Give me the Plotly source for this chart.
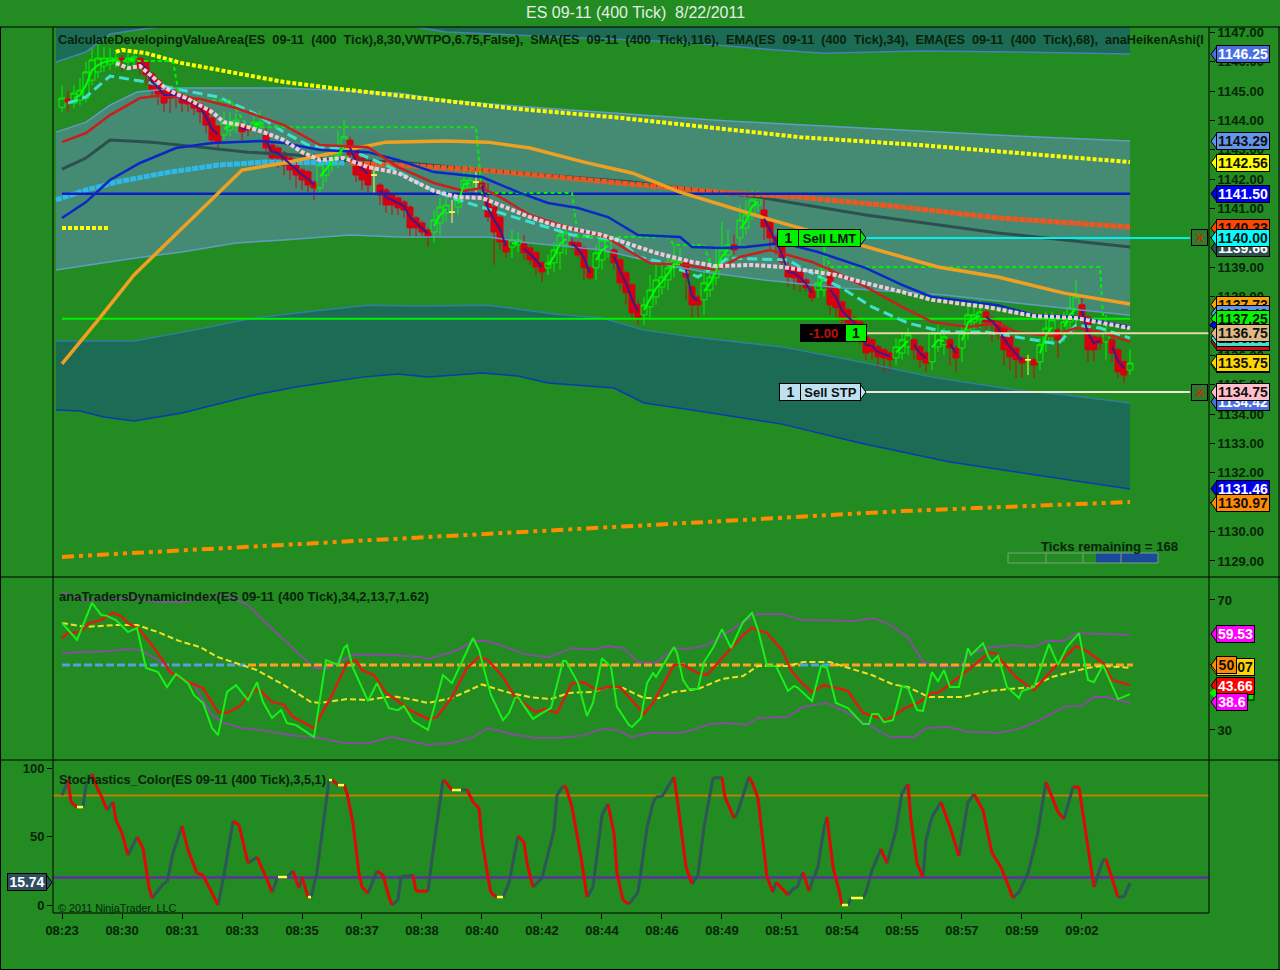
"""ES 09-11 (400 Tick) 8/22/2011, NinjaTrader style three panel chart."""

import plotly.graph_objects as go

WIDTH, HEIGHT = 1280, 970
BG = "#228B22"
INK = "#082408"
FONT = "Liberation Sans"

TIME_LABELS = ["08:23", "08:30", "08:31", "08:33", "08:35", "08:37", "08:38", "08:40", "08:42",
               "08:44", "08:46", "08:49", "08:51", "08:54", "08:55", "08:57", "08:59", "09:02"]
TIME_TICKS = [i * 10 for i in range(len(TIME_LABELS))]

# ---------------------------------------------------------------------------
# Heiken-Ashi bars (None where the bar is a doji, see DOJI_*)
# ---------------------------------------------------------------------------
BAR_OPEN = [
    1144.45, 1144.73, 1144.59, 1144.69, 1144.76, 1145.37, 1145.65, 1145.85, 1145.92, 1145.99,
    1146.12, 1145.99, 1146.06, 1146.12, 1145.99, 1145.58, 1145.37, 1145.14, 1144.97, 1144.93,
    1144.86, 1144.80, 1144.69, 1144.56, 1144.42, 1144.08, 1143.81, 1143.50, 1143.67, 1143.81,
    1143.81, 1143.78, 1143.74, 1143.84, 1143.50, 1143.16, 1143.06, 1142.89, 1142.72, 1142.55,
    1142.31, 1142.25, 1141.90, 1141.70, 1142.14, 1142.48, 1142.65, 1142.72, 1143.33, 1143.06,
    1142.72, 1142.59, None, 1141.80, 1141.63, 1141.46, 1141.36, 1141.22, 1141.05, 1140.68,
    1140.51, 1140.27, 1140.20, 1140.51, 1140.85, None, 1141.05, 1141.70, 1141.73, None,
    1141.87, 1141.29, 1141.05, 1140.71, 1139.93, 1139.69, 1139.76, 1139.79, 1139.66, 1139.49,
    1139.15, 1138.98, 1139.15, 1139.49, 1139.76, 1139.86, 1139.83, 1139.66, 1138.98, 1138.98,
    1139.25, 1139.52, 1139.59, 1139.25, 1138.81, 1138.40, 1137.72, 1137.38, 1137.65, 1137.99,
    1138.33, 1138.57, 1138.98, 1139.00, 1139.15, 1138.33, 1137.99, 1137.89, 1138.23, 1138.64,
    1139.18, 1139.42, 1139.76, 1140.00, 1140.34, 1140.82, 1141.12, 1140.95, 1140.54, 1140.03,
    1139.69, 1139.01, 1138.98, 1138.84, 1138.57, 1138.30, 1138.23, 1138.23, 1138.74, 1138.33,
    1137.82, 1137.55, 1137.28, 1137.14, 1136.63, 1136.53, 1136.29, 1136.19, 1136.08, 1135.91,
    1136.08, 1136.29, 1136.53, 1136.29, 1136.08, 1135.78, 1136.29, 1136.36, 1136.53, 1136.25,
    1136.25, 1136.87, 1137.14, 1137.21, 1137.48, 1137.28, 1137.14, 1136.93, 1136.63, 1136.25,
    1135.91, None, 1135.85, 1135.78, 1136.42, 1136.70, 1136.87, 1136.80, 1137.14, 1137.21,
    1137.72, 1137.31, 1136.63, 1136.59, 1136.46, 1136.53, 1136.19, 1135.78, 1135.50,
]
BAR_CLOSE = [
    1144.76, 1144.62, 1144.93, 1145.03, 1145.65, 1146.06, 1146.12, 1146.12, 1146.12, 1146.12,
    1146.06, 1146.12, 1146.16, 1145.78, 1145.55, 1145.03, 1144.90, 1144.59, 1144.76, 1144.80,
    1144.59, 1144.56, 1144.42, 1144.29, 1143.84, 1143.33, 1143.23, 1143.94, 1143.94, 1144.01,
    1143.61, 1143.67, 1143.94, 1143.94, 1143.06, 1142.72, 1142.72, 1142.48, 1142.31, 1142.14,
    1141.97, 1141.80, 1141.70, 1142.48, 1142.55, 1142.72, 1142.99, 1143.44, 1142.82, 1142.14,
    1141.97, 1141.80, None, 1141.46, 1141.12, 1141.12, 1141.02, 1140.95, 1140.34, 1140.34,
    1140.20, 1140.03, 1140.61, 1141.05, 1141.12, None, 1141.29, 1141.97, 1141.97, None,
    1141.70, 1140.71, 1140.20, 1139.86, 1139.52, 1139.93, 1139.93, 1139.49, 1139.25, 1139.01,
    1138.84, 1139.15, 1139.59, 1140.10, 1140.17, 1139.76, 1139.42, 1138.98, 1138.64, 1139.49,
    1139.93, 1139.93, 1139.15, 1138.47, 1138.13, 1137.45, 1137.28, 1137.72, 1138.23, 1138.57,
    1138.67, 1138.98, 1139.25, 1139.18, 1138.67, 1137.72, 1137.72, 1138.47, 1138.67, 1139.08,
    1139.59, 1139.76, 1139.59, 1140.61, 1140.78, 1141.29, 1141.36, 1140.37, 1140.00, 1139.76,
    1139.18, 1138.67, 1138.64, 1138.47, 1138.30, 1137.96, 1138.47, 1138.98, 1137.72, 1137.62,
    1137.21, 1137.10, 1136.93, 1136.70, 1136.08, 1136.12, 1135.95, 1135.91, 1135.85, 1136.29,
    1136.53, 1136.70, 1136.19, 1135.85, 1135.74, 1136.76, 1136.76, 1136.63, 1136.25, 1135.91,
    1136.76, 1137.38, 1137.38, 1137.48, 1137.14, 1137.04, 1136.76, 1136.19, 1135.95, 1135.85,
    1135.74, None, 1135.67, 1136.36, 1136.93, 1137.21, 1136.53, 1137.14, 1137.62, 1137.99,
    1137.28, 1136.19, 1136.19, 1136.42, 1136.76, 1136.08, 1135.44, 1135.33, 1135.74,
]
BAR_HIGH = [
    1145.20, 1145.00, 1145.20, 1145.44, 1145.99, 1146.47, 1146.60, 1146.50, 1146.47, 1146.40,
    1146.22, 1146.29, 1146.36, 1146.16, 1146.06, 1145.65, 1145.44, 1145.20, 1145.03, 1145.00,
    1144.93, 1144.86, 1144.76, 1144.62, 1144.49, 1144.18, 1143.84, 1144.29, 1144.29, 1144.25,
    1143.94, 1143.88, 1144.29, 1144.35, 1143.74, 1143.23, 1143.13, 1142.96, 1142.79, 1142.62,
    1142.38, 1142.31, 1141.97, 1142.82, 1142.99, 1143.06, 1143.67, 1144.01, 1143.44, 1143.13,
    1142.79, 1142.65, None, 1141.87, 1141.70, 1141.53, 1141.43, 1141.29, 1141.12, 1140.75,
    1140.58, 1140.34, 1140.95, 1141.36, 1141.36, None, 1141.53, 1142.48, 1142.48, None,
    1141.97, 1141.87, 1141.12, 1140.78, 1140.00, 1140.27, 1140.20, 1140.10, 1139.73, 1139.56,
    1139.22, 1139.42, 1139.86, 1140.34, 1140.44, 1140.00, 1139.90, 1139.73, 1139.05, 1139.76,
    1140.10, 1140.10, 1139.66, 1139.32, 1138.88, 1138.47, 1137.89, 1137.99, 1138.74, 1139.08,
    1139.08, 1139.42, 1139.76, 1139.66, 1139.22, 1138.40, 1138.06, 1138.91, 1139.32, 1139.76,
    1140.54, 1140.27, 1140.10, 1141.12, 1141.29, 1141.63, 1141.63, 1141.46, 1140.61, 1140.10,
    1139.76, 1139.18, 1139.05, 1138.91, 1138.64, 1138.37, 1138.98, 1139.66, 1139.00, 1138.40,
    1137.89, 1137.62, 1137.35, 1137.21, 1136.70, 1136.59, 1136.36, 1136.25, 1136.15, 1136.59,
    1136.80, 1136.93, 1136.59, 1136.36, 1136.15, 1136.93, 1137.04, 1136.93, 1136.59, 1136.32,
    1137.04, 1137.72, 1137.72, 1137.89, 1137.65, 1137.35, 1137.21, 1137.00, 1136.70, 1136.32,
    1135.98, None, 1135.91, 1136.59, 1137.48, 1137.48, 1136.93, 1137.48, 1138.06, 1138.57,
    1138.06, 1137.38, 1136.70, 1136.66, 1137.38, 1136.59, 1136.25, 1135.85, 1136.19,
]
BAR_LOW = [
    1144.29, 1144.29, 1144.42, 1144.52, 1144.62, 1145.20, 1145.44, 1145.65, 1145.71, 1145.78,
    1145.65, 1145.78, 1145.82, 1145.55, 1145.20, 1144.86, 1144.52, 1144.29, 1144.25, 1144.42,
    1144.29, 1144.29, 1144.18, 1143.91, 1143.57, 1143.16, 1143.06, 1143.33, 1143.47, 1143.57,
    1143.33, 1143.47, 1143.61, 1143.67, 1142.82, 1142.48, 1142.38, 1142.14, 1141.97, 1141.70,
    1141.63, 1141.56, 1141.29, 1141.46, 1141.90, 1142.25, 1142.38, 1142.48, 1142.65, 1141.90,
    1141.63, 1141.56, None, 1141.12, 1140.85, 1140.78, 1140.78, 1140.68, 1140.03, 1140.03,
    1140.03, 1139.69, 1139.83, 1140.10, 1140.54, None, 1140.78, 1141.46, 1141.56, None,
    1141.39, 1140.54, 1139.08, 1139.59, 1139.32, 1139.32, 1139.52, 1139.25, 1139.08, 1138.74,
    1138.50, 1138.74, 1138.84, 1138.91, 1139.42, 1139.59, 1139.32, 1138.57, 1138.57, 1138.57,
    1138.91, 1139.32, 1138.91, 1138.23, 1137.72, 1137.21, 1137.04, 1137.04, 1137.28, 1137.72,
    1138.06, 1138.23, 1138.64, 1138.84, 1137.89, 1137.28, 1137.28, 1137.38, 1137.99, 1138.40,
    1139.01, 1139.18, 1139.42, 1139.76, 1140.10, 1140.61, 1140.88, 1139.93, 1139.59, 1139.42,
    1138.98, 1138.33, 1138.23, 1138.16, 1138.16, 1137.82, 1137.96, 1137.99, 1137.38, 1137.28,
    1136.87, 1136.70, 1136.53, 1136.36, 1135.85, 1135.85, 1135.57, 1135.44, 1135.44, 1135.67,
    1135.85, 1136.02, 1135.85, 1135.57, 1135.44, 1135.50, 1136.12, 1136.02, 1135.67, 1135.44,
    1135.78, 1136.53, 1136.87, 1136.93, 1136.87, 1136.46, 1136.53, 1135.67, 1135.50, 1135.23,
    1135.23, None, 1135.23, 1135.50, 1136.12, 1136.46, 1135.91, 1136.46, 1136.87, 1136.93,
    1136.87, 1135.78, 1135.78, 1136.19, 1135.85, 1135.78, 1135.23, 1135.06, 1135.33,
]
DOJI_BARS = [52, 65, 69, 161]
DOJI_CLOSE = [1142.14, 1140.88, 1141.90, 1135.85]
DOJI_HIGH = [1142.48, 1141.29, 1142.31, 1136.02]
DOJI_LOW = [1141.46, 1140.51, 1141.53, 1135.33]

# ---------------------------------------------------------------------------
# Price panel series, (bar, value)
# ---------------------------------------------------------------------------
UPPER_DARK_EDGE = [(-1, 1145.99), (4, 1146.33), (8, 1146.94), (19, 1147.28), (37, 1147.35), (56, 1147.28),
                   (64, 1147.01), (83, 1146.84), (103, 1146.67), (119, 1146.40), (127, 1146.29),
                   (143, 1146.36), (159, 1146.33), (178, 1146.26)]
PLOT_CEILING = [(-1, 1147.6), (178, 1147.6)]
LIGHT_TOP = [(-1, 1143.60), (4, 1143.94), (8, 1144.52), (12.5, 1144.97), (19, 1145.10), (37, 1145.10),
             (56, 1144.93), (64, 1144.69), (80, 1144.42), (96, 1144.18), (111, 1143.98), (127, 1143.81),
             (143, 1143.64), (159, 1143.47), (178, 1143.30)]
LIGHT_BOTTOM = [(-1, 1138.91), (12, 1139.31), (20, 1139.52), (29, 1139.83), (37, 1139.93), (48, 1140.10),
                (56, 1140.03), (71, 1140.03), (78, 1139.83), (90, 1139.59), (97, 1139.25), (107, 1138.84),
                (117, 1138.57), (130, 1138.29), (147, 1138.06), (159, 1137.78), (178, 1137.37)]
LOWER_TOP = [(-1, 1136.49), (12, 1136.49), (22, 1136.86), (32, 1137.27), (42, 1137.51), (51, 1137.71),
             (59, 1137.68), (71, 1137.71), (82, 1137.41), (90, 1137.27), (97, 1136.86), (105, 1136.63),
             (120, 1136.29), (134, 1135.74), (145, 1135.26), (159, 1134.82), (167.5, 1134.65), (178, 1134.38)]
LOWER_BOTTOM = [(-1, 1134.14), (3, 1134.11), (7, 1133.90), (12, 1133.77), (20, 1134.04), (32, 1134.65),
                (39, 1134.92), (50, 1135.26), (56, 1135.37), (61, 1135.26), (70, 1135.40), (76, 1135.30),
                (81, 1135.06), (92, 1134.89), (97, 1134.38), (105, 1134.14), (120, 1133.66), (133, 1133.02),
                (148, 1132.37), (165, 1131.86), (178, 1131.45)]
OPEN_LEVEL = 1141.50
POC_LEVEL = 1137.25
SHORT_DOTS = 1140.34
BOTTOM_ORANGE = [(0, 1129.14), (40, 1129.58), (73, 1129.92), (104, 1130.29), (140, 1130.70), (156, 1130.84),
                 (178, 1131.01)]
YELLOW_DOTS = [(9, 1146.33), (10, 1146.40), (14, 1146.29), (20, 1145.95), (29, 1145.61), (37, 1145.31),
               (45, 1145.10), (54, 1144.90), (64, 1144.69), (76, 1144.39), (92, 1144.11), (107, 1143.77),
               (123, 1143.43), (143, 1143.16), (159, 1142.89), (178, 1142.58)]
ARROWS_CYAN = [(-1, 1141.29), (4, 1141.63), (9, 1141.90), (18, 1142.24), (26, 1142.48), (34, 1142.58),
               (47, 1142.55)]
ARROWS_RED = [(48, 1142.55), (56, 1142.48), (70, 1142.31), (84, 1142.04), (95, 1141.80), (109, 1141.56),
              (123, 1141.39), (140, 1141.05), (156, 1140.68), (178, 1140.37)]
SMA_116 = [(0, 1142.34), (4, 1142.72), (8, 1143.33), (15, 1143.26), (23, 1143.09), (31, 1142.92), (39, 1142.82),
           (45, 1142.65), (56, 1142.58), (70, 1142.31), (95, 1141.90), (116, 1141.39), (134, 1140.78),
           (156, 1140.17), (178, 1139.69)]
SMA_ORANGE = [(0, 1135.71), (6, 1137.20), (12, 1138.74), (26, 1141.53), (30, 1142.31), (37, 1142.55), (45, 1142.89),
              (54, 1143.26), (64, 1143.30), (71, 1143.26), (78, 1143.06), (87, 1142.58), (95, 1142.21),
              (103, 1141.56), (117, 1140.68), (134, 1139.69), (146, 1139.01), (156, 1138.67), (167, 1138.12),
              (178, 1137.75)]
EMA_BLUE = [(0, 1140.68), (4, 1141.22), (8, 1141.97), (13, 1142.55), (19, 1143.06), (25, 1143.23), (33, 1143.30),
            (37, 1143.23), (43, 1142.99), (51, 1142.92), (56, 1142.65), (62, 1142.24), (70, 1142.07), (76, 1141.56),
            (81, 1141.19), (86, 1141.02), (91, 1140.71), (96, 1140.10), (103, 1140.03), (105, 1139.69),
            (110, 1139.66), (114, 1139.69), (120, 1139.83), (126, 1139.52), (134, 1138.97), (140, 1138.40),
            (145, 1137.99), (156, 1137.71), (162, 1137.37), (169, 1137.31), (178, 1136.97)]
EMA_RED = [(0, 1143.26), (4, 1143.57), (8, 1144.18), (13, 1144.76), (17, 1144.86), (23, 1144.73), (29, 1144.42),
           (37, 1143.84), (43, 1143.16), (51, 1143.09), (56, 1142.41), (62, 1141.87), (67, 1141.60), (70, 1141.70),
           (73, 1141.39), (78, 1140.78), (84, 1140.37), (91, 1140.00), (95, 1139.49), (98, 1139.14), (104, 1139.08),
           (109, 1138.91), (113, 1139.35), (118, 1139.59), (121, 1139.42), (125, 1139.18), (128, 1138.91),
           (134, 1138.33), (140, 1137.65), (145, 1137.14), (151, 1136.97), (156, 1137.10), (159, 1136.80),
           (165, 1136.66), (169, 1136.93), (173, 1136.80), (178, 1136.46)]
PINK_DOTS = [(9, 1145.95), (11, 1145.78), (13, 1145.85), (15, 1145.48), (17, 1145.14), (19, 1144.90), (21, 1144.73),
             (25, 1144.29), (27, 1143.94), (30, 1143.84), (34, 1143.57), (37, 1143.33), (40, 1142.92), (43, 1142.65),
             (47, 1142.72), (51, 1142.41), (56, 1142.21), (59, 1141.90), (62, 1141.60), (66, 1141.39), (70, 1141.36),
             (73, 1141.12), (78, 1140.71), (82, 1140.44), (90, 1140.10), (94, 1139.83), (99, 1139.49), (105, 1139.18),
             (109, 1139.04), (115, 1139.08), (120, 1139.01), (129, 1138.74), (134, 1138.46), (140, 1138.16),
             (145, 1137.89), (154, 1137.65), (162, 1137.34), (169, 1137.27), (178, 1136.93)]
TEAL_DASH = [(1, 1144.59), (4, 1144.80), (8, 1145.51), (14, 1145.31), (20, 1145.03), (26, 1144.80), (32, 1144.25),
             (37, 1143.60), (41, 1143.16), (48, 1142.99), (54, 1142.48), (61, 1141.70), (65, 1141.36), (81, 1140.34),
             (85, 1140.10), (93, 1139.93), (96, 1139.35), (100, 1139.18), (106, 1138.67), (111, 1139.31),
             (121, 1139.25), (123, 1139.01), (130, 1138.29), (135, 1137.65), (141, 1137.10), (147, 1136.80),
             (154, 1136.80), (159, 1136.63), (166, 1136.39), (169, 1137.03), (173, 1136.93), (178, 1136.59)]
GREEN_STEPS = [(9, 1146.02), (18.5, 1146.02), (19.5, 1144.86), (21, 1144.69), (28, 1144.69), (31, 1143.77),
               (69, 1143.77), (70, 1141.53), (85, 1141.53), (86, 1140.03), (101, 1140.03), (102, 1139.76),
               (107, 1139.76), (108, 1139.14), (109, None), (127, 1139.69), (128, 1139.01), (173, 1139.01),
               (173.5, 1137.31)]

# ---------------------------------------------------------------------------
# Traders dynamic index
# ---------------------------------------------------------------------------
TDI_UPPER = [(0, 72.4), (3.5, 70), (12, 70.6), (16, 69.4), (20, 69.4), (26, 71.5), (28.5, 70.6), (31, 68.4), (34, 62.9),
             (38.5, 55.2), (42, 49.1), (44, 48.8), (47, 51.5), (48.5, 53.1), (55, 53.1), (60, 52.4), (61, 51.8),
             (64, 53.4), (66, 54.6), (68.5, 57.4), (71, 57.4), (74, 55.5), (77, 53.4), (81, 52.4), (85, 55.2),
             (88.5, 54.6), (91, 55.8), (93.5, 55.2), (96, 50.9), (99, 50.6), (102, 55.2), (104, 54.9), (107.5, 56.1),
             (111, 60.1), (113.5, 63.2), (116, 65.7), (120, 65.7), (123.5, 63.8), (132, 63.5), (135, 64.4),
             (137.5, 62.9), (141, 58.6), (143.5, 50.9), (147, 49.4), (150, 50), (151, 53.1), (154, 55.2),
             (158.5, 56.1), (162, 55.5), (164, 57.4), (167, 57.4), (169, 59.8), (173.5, 59.5), (178, 59.2)]
TDI_LOWER = [(0, 53.7), (3.5, 54), (8, 54.3), (11, 54.9), (13, 54.6), (16, 51.5), (18.5, 47.5), (22, 43.8), (25, 34.6),
             (27, 32.1), (30, 30.6), (33, 30), (36, 29.1), (39, 28.1), (42, 27.8), (47, 26), (51, 26), (55, 27.8),
             (58, 26.6), (61, 25.4), (65, 26), (68.5, 27.8), (71, 30.6), (75, 28.7), (79, 27.5), (83, 27.5), (87, 28.4),
             (90, 30.3), (92.5, 30), (95, 27.8), (98, 29.1), (103, 29.1), (105, 30), (108, 31.8), (111, 32.1),
             (114, 31.5), (116, 33.7), (121, 34), (123.5, 37.1), (127.5, 38.3), (131, 35.2), (134, 32.1), (138, 27.8),
             (142, 27.8), (144, 30.6), (148, 30.9), (151, 29.4), (156, 29.1), (160, 30.6), (164, 34), (167, 37.1),
             (170, 37.4), (172, 40.1), (174, 40.1), (178, 38.3)]
TDI_MID_BLUE = [(0, 50), (31, 50), (None, None), (123, 50), (128, 50)]
TDI_MID_ORANGE = [(31, 50), (123, 50), (None, None), (128, 50), (178.5, 50)]
TDI_SIGNAL = [(0, 62.9), (4, 61.7), (9, 62.3), (12.5, 62.3), (16, 60.1), (19.5, 57.4), (23, 55.5), (26, 52.4),
              (32.5, 48.4), (37, 43.8), (41.5, 38.6), (43, 38.3), (47.5, 39.5), (51, 39.2), (55, 40.4), (58, 39.5),
              (61, 38.3), (65, 39.8), (70, 44), (74, 41.7), (78, 40.1), (81.5, 39.5), (84.5, 41.4), (88.5, 41.7),
              (91, 43.2), (93.5, 42.9), (97, 39.8), (99.5, 39.8), (102, 41.7), (106, 42.6), (110, 45.7), (113.5, 46.6),
              (116, 49.7), (121, 49.7), (123.5, 50.9), (128, 50.9), (130.5, 49.4), (135, 46.9), (138.5, 44), (141, 43.2),
              (144.5, 40.1), (150, 40.1), (154.5, 42), (161.5, 43.2), (165, 46.3), (171, 49.1), (173.5, 49.7), (178, 49.1)]
TDI_RED = [(0, 58.3), (1, 59.8), (3, 60.1), (4.5, 62.9), (6.5, 63.8), (8.5, 66), (10, 64.8), (11, 62.9), (13, 60.7),
           (15, 56.1), (17, 50.9), (18, 47.8), (21, 44.7), (23.5, 42.9), (26, 35.5), (27.5, 35.2), (29.5, 37.1),
           (32, 42.3), (33, 42.3), (35, 38.6), (37, 37.7), (38.5, 34), (42, 30.6), (45, 40.7), (47.5, 50.6), (49, 51.5),
           (50, 48.4), (52, 46.9), (54, 41.4), (56, 38.9), (58, 36.1), (61, 33.4), (62.5, 34), (65, 40.1), (67.5, 49.1),
           (69.5, 52.4), (71, 51.5), (73.5, 46.3), (75.5, 40.1), (79, 35.5), (80.5, 36.4), (82.5, 35.2), (85, 44.4),
           (87, 44.7), (89, 42.3), (91, 43.2), (93, 43.2), (97, 34.9), (98.5, 38.3), (102, 50), (103.5, 50), (106, 47.5),
           (107.5, 46.9), (111, 54), (113.5, 59.2), (115, 61.4), (117.5, 59.8), (120, 54.6), (121.5, 48.4), (123, 45),
           (125, 41.7), (127, 43.8), (131, 42), (133.5, 35.2), (137.5, 33), (140.5, 36.7), (143, 38.6), (145, 41.4),
           (146, 41.4), (150, 46.9), (154.5, 53.7), (155.5, 53.7), (159, 46.3), (162, 42.3), (165, 48.4), (169, 55.8),
           (171, 54), (173.5, 50.6), (175, 45.4), (178, 43.8)]
TDI_LIME = [(0, 62.9), (2.5, 57.7), (5, 69.1), (6.5, 65.4), (7.5, 65.1), (9, 63.8), (11, 60.1), (12.5, 61.4), (14, 49.1),
            (16, 47.8), (17.5, 43.2), (19, 47.2), (21, 44.4), (22, 40.7), (23.5, 38.3), (25, 30.6), (26, 28.4),
            (27.5, 41.7), (29, 43.8), (31, 39.2), (32.5, 44.7), (33.5, 38.6), (35, 33.7), (36.5, 36.1), (37.5, 32.1),
            (39, 31.5), (42, 27.8), (44, 51.5), (46, 50), (47, 55.2), (47.5, 56.1), (48.5, 49.1), (51, 38.9), (52.5, 44.4),
            (54.5, 36.7), (56, 36.1), (57, 37.4), (58.5, 32.8), (61, 30), (63.5, 46.9), (65, 44.4), (68.5, 58.3),
            (69.5, 54.6), (71.5, 40.7), (73.5, 33), (74.5, 35.2), (75.5, 39.8), (76, 40.1), (78.5, 33.4), (80, 35.2),
            (81.5, 36.7), (83.5, 51.2), (84, 51.2), (86, 44.4), (87.5, 34.3), (88.5, 38.3), (90, 52.1), (91.5, 49.4),
            (92.5, 37.1), (94.5, 31.5), (95, 30.9), (96.5, 33.7), (97.5, 44.4), (98.5, 47.5), (99, 46.3), (102, 55.5),
            (102.5, 53.7), (103.5, 45.4), (104.5, 42.6), (106, 42.6), (107, 50.9), (108.5, 55.2), (110, 61), (111.5, 55.2),
            (113.5, 63.2), (115, 66), (116, 60.8), (117, 53.7), (117.5, 49.7), (119, 49.7), (121, 42), (122, 43.5),
            (122.5, 43.2), (125, 38.9), (126.5, 49.7), (127.5, 49.1), (129, 38.3), (131, 36.7), (133.5, 31.8),
            (134.5, 31.8), (135, 34.9), (136, 34.9), (137, 32.4), (138.5, 33), (140, 43.5), (141, 42.9), (142.5, 36.1),
            (143.5, 35.8), (145, 47.8), (146, 45), (147, 48.4), (148, 43.2), (149.5, 43.2), (151, 55.2), (151.5, 53.1),
            (153.5, 56.7), (154.5, 52.1), (155, 50.9), (156, 52.8), (157.5, 43.2), (159.5, 39.8), (160, 42), (162, 43.2),
            (164.5, 56.4), (166, 50), (167.5, 55.5), (169.5, 59.8), (171, 45.4), (172, 44.7), (173.5, 50), (176, 39.5),
            (178, 41)]

# ---------------------------------------------------------------------------
# Stochastics
# ---------------------------------------------------------------------------
STOCH_UPPER = 80
STOCH_LOWER = 20
STOCH = [(0, 80.2), (1, 91.2), (1.5, 75.1), (2.5, 71.5), (3.5, 71.5), (4, 87.5), (5, 95.6), (6, 83.9), (6.5, 80.2),
         (7.5, 69.3), (8.5, 75.1), (9, 62), (10, 52.5), (11, 36.5), (12.5, 49.6), (13.5, 41.6), (14.5, 13.1), (15, 5.1),
         (17, 16), (17.5, 16.7), (18.5, 37.9), (20, 57.6), (21, 40.1), (22.5, 23.3), (23.5, 21.9), (24.5, 13.1), (26, 0),
         (27, 21.9), (28.5, 61.3), (29.5, 58.4), (31, 30.6), (32.5, 35), (34, 20.4), (35, 9.4), (36, 20.4), (37.5, 20.4),
         (38.5, 24.8), (39.5, 12.4), (40, 20.4), (41, 5.8), (41.5, 5.8), (42.5, 24), (44.5, 91.2), (45, 91.2), (46, 87.5),
         (47, 87.5), (47.5, 81.7), (48.5, 59.8), (49.5, 23.3), (50, 13.1), (51, 8.7), (52.5, 24.8), (53.5, 21.9),
         (54.5, 5.8), (55, 0), (56, 3.6), (56.5, 20.4), (58.5, 21.9), (59, 10.2), (61, 10), (61.5, 27.7), (62.5, 59.8),
         (63.5, 91.2), (64, 89.7), (65, 83.9), (66.5, 83.9), (67.5, 84.3), (68.5, 75.1), (69.5, 70.8), (70, 47.4), (71, 20.4),
         (71.5, 8.7), (72.5, 5.8), (73.5, 5.8), (74.5, 16), (76, 50.3), (77, 45.9), (77.5, 30.6), (78.5, 13.1), (80, 19.7),
         (82, 54.7), (82.5, 80.2), (83.5, 86.8), (84, 86.1), (85, 71.5), (86.5, 35), (87.5, 5.8), (88.5, 13.1), (90, 65.7),
         (91, 73.7), (92, 52.5), (92.5, 23.3), (93.5, 3.6), (94.5, 0.7), (96, 9.4), (97.5, 56.2), (98.5, 74.4), (99, 78.8),
         (100, 79.2), (102, 93.4), (102.5, 78.8), (104, 27.7), (105, 15.3), (106, 21.9), (107, 56.9), (108.5, 92.7),
         (110, 93), (110.5, 78.8), (112, 63.5), (112.5, 66.4), (114.5, 93.4), (115, 89.7), (116, 78.1), (117.5, 20.4),
         (118.5, 9.4), (119, 16.7), (121, 7.3), (122, 12.4), (122.5, 12.6), (123.5, 24), (124.5, 10.2), (125, 16.7),
         (126, 27.7), (127, 56.2), (127.5, 64.2), (128.5, 27.7), (129.5, 10.9), (130, 0), (131, 0), (131.5, 5.1), (133.5, 5.1),
         (134, 9.4), (135, 25.5), (136.5, 40.8), (137.5, 30.6), (139, 54.7), (140, 81.7), (141, 88.3), (141.5, 62),
         (142.5, 30.6), (143.5, 20.4), (144, 47.4), (145, 64.2), (146.5, 75.1), (148, 57), (149.5, 35.7), (151, 75.1),
         (152, 81), (153.5, 69.3), (155, 37.9), (156.5, 27.7), (158.5, 5.1), (159.5, 9.4), (161, 23.3), (162.5, 49.6),
         (164, 89.7), (166, 67.8), (167, 62.7), (168.5, 86.1), (169.5, 85.9), (172, 13.1), (173.5, 32.8), (174, 33.2),
         (176, 5.8), (177, 6), (178, 16)]

# ---------------------------------------------------------------------------
# Right-hand price flags: text, value, fill, text colour (drawn in this order)
# ---------------------------------------------------------------------------
PRICE_FLAGS = [
    ("1146.25", 1146.25, "#4A6FE0", "#FFFFFF"),
    ("1143.29", 1143.29, "#6495ED", "#101010"),
    ("1142.56", 1142.56, "#FFFF00", "#101010"),
    ("1141.50", 1141.50, "#0000F0", "#FFFFFF"),
    ("1140.33", 1140.33, "#FF4500", "#101010"),
    ("1139.66", 1139.66, "#2F4F4F", "#FFFFFF"),
    ("1140.00", 1140.00, "#00FFFF", "#101010"),
    ("1137.73", 1137.73, "#FFA500", "#101010"),
    ("1137.42", 1137.42, "#6495ED", "#101010"),
    ("1136.46", 1136.46, "#D01010", "#FFFFFF"),
    ("1136.59", 1136.59, "#40E0D0", "#101010"),
    ("1137.25", 1137.25, "#00F800", "#101010"),
    ("1136.75", 1136.75, "#DEB887", "#101010"),
    ("1135.70", 1135.70, "#00F800", "#101010"),
    ("1135.75", 1135.75, "#FFD700", "#101010"),
    ("1134.42", 1134.42, "#4A6FE0", "#FFFFFF"),
    ("1134.75", 1134.75, "#FFC0CB", "#101010"),
    ("1131.46", 1131.46, "#0000F0", "#FFFFFF"),
    ("1130.97", 1130.97, "#FF8C00", "#101010"),
]
TDI_FLAGS = [
    ("59.53", 59.53, "#FF00FF", "#FFFFFF", 43),
    ("\u00a0\u00a0\u00a0\u00a0\u00a007", 49.3, "#FFD700", "#101010", 43),
    ("50", 50.0, "#FF8C00", "#101010", 25),
    ("43.66", 43.66, "#FF0000", "#FFFFFF", 43),
    ("38.6", 38.6, "#FF00FF", "#FFFFFF", 36),
]
STOCH_LAST = 15.74
ORDER_LIMIT = 1140.00
ORDER_ENTRY = 1136.75
ORDER_STOP = 1134.75

# panel geometry (page pixels)
LEFT, RIGHT, TOP, SPLIT1, SPLIT2, BOTTOM = 53, 1209, 27, 577, 760, 913
XRANGE = [-1.5, 191.17]
Y1RANGE = [1128.455, 1147.18]
Y2RANGE = [20.75, 77.06]
Y3RANGE = [-5.84, 105.84]


def px(x):
    return x / WIDTH


def py(y):
    return 1 - y / HEIGHT


def y_of_price(v):
    return TOP + (Y1RANGE[1] - v) / (Y1RANGE[1] - Y1RANGE[0]) * (SPLIT1 - TOP)


def y_of_tdi(v):
    return SPLIT1 + (Y2RANGE[1] - v) / (Y2RANGE[1] - Y2RANGE[0]) * (SPLIT2 - SPLIT1)


def y_of_stoch(v):
    return SPLIT2 + (Y3RANGE[1] - v) / (Y3RANGE[1] - Y3RANGE[0]) * (BOTTOM - SPLIT2)


def xy(pairs):
    return [p[0] for p in pairs], [p[1] for p in pairs]


def line_trace(pairs, color, width=2, dash=None, yaxis="y", **kw):
    x, y = xy(pairs)
    return go.Scatter(x=x, y=y, mode="lines", yaxis=yaxis, hoverinfo="skip", showlegend=False,
                      line=dict(color=color, width=width, dash=dash), **kw)


def add_band(fig, upper, lower, fill):
    # shapes sit under the candlestick layer, a filled scatter would hide the bars
    pts = list(upper) + list(reversed(lower))
    path = "M " + " L ".join(f"{x},{y}" for x, y in pts) + " Z"
    fig.add_shape(type="path", xref="x", yref="y", path=path, fillcolor=fill, line=dict(width=0), layer="below")


def add_label(fig, x, y, text, size=13, color=INK, bold=True, anchor="left", **kw):
    fig.add_annotation(xref="paper", yref="paper", x=px(x), y=py(y), text=text, showarrow=False,
                       xanchor=anchor, yanchor="middle",
                       font=dict(family=FONT, size=size, color=color, weight=700 if bold else 400), **kw)


def add_box(fig, x0, x1, y, h, text, fill, color, size=14, border="#000000"):
    fig.add_annotation(xref="paper", yref="paper", x=px((x0 + x1) / 2), y=py(y), text=text, showarrow=False,
                       xanchor="center", yanchor="middle", width=x1 - x0, height=h, borderpad=0, borderwidth=1,
                       bgcolor=fill, bordercolor=border, align="center", valign="middle",
                       font=dict(family=FONT, size=size, color=color, weight=700))


def add_path(fig, points, fill, line="#000000", width=1):
    path = "M " + " L ".join(f"{px(x):.5f},{py(y):.5f}" for x, y in points) + " Z"
    fig.add_shape(type="path", xref="paper", yref="paper", path=path, fillcolor=fill,
                  line=dict(color=line, width=width), layer="above")


def add_rule(fig, x0, y0, x1, y1, color="#000000", width=1):
    fig.add_shape(type="line", xref="paper", yref="paper", x0=px(x0), y0=py(y0), x1=px(x1), y1=py(y1),
                  line=dict(color=color, width=width), layer="above")


def add_flag(fig, text, y, fill, color, x0=1217, w=52):
    add_path(fig, [(1211, y), (x0, y - 8), (x0, y + 8)], fill)
    add_box(fig, x0, x0 + w, y, 16, text, fill, color)


fig = go.Figure()

# value area bands
add_band(fig, PLOT_CEILING, UPPER_DARK_EDGE, "#1C6B55")
add_band(fig, LIGHT_TOP, LIGHT_BOTTOM, "#458B74")
add_band(fig, LOWER_TOP, LOWER_BOTTOM, "#1C6B55")
fig.add_trace(line_trace(UPPER_DARK_EDGE, "#4682B4", 1.5))
fig.add_trace(line_trace(LIGHT_TOP, "#5F9EC0", 1.5))
fig.add_trace(line_trace(LIGHT_BOTTOM, "#5F9EC0", 1.5))
fig.add_trace(line_trace(LOWER_TOP, "#2E7FA0", 1.5))
fig.add_trace(line_trace(LOWER_BOTTOM, "#0A3CB0", 1.5))

# moving averages
fig.add_trace(line_trace(BOTTOM_ORANGE, "#FF8C00", 4, dash="12px,5px,4px,5px,4px,5px"))
fig.add_trace(line_trace(SMA_116, "#2F4F4F", 3))
fig.add_trace(line_trace(ARROWS_CYAN, "#30B8E8", 5, dash="6px,1px"))
fig.add_trace(line_trace(ARROWS_RED, "#F0561E", 5, dash="6px,1px"))
fig.add_trace(line_trace([(0, OPEN_LEVEL), (178, OPEN_LEVEL)], "#0A1EC8", 2.5))
fig.add_trace(line_trace([(0, POC_LEVEL), (178, POC_LEVEL)], "#00F000", 2))
fig.add_trace(line_trace([(0, SHORT_DOTS), (8, SHORT_DOTS)], "#FFFF00", 4, dash="4px,2px"))
fig.add_trace(line_trace(YELLOW_DOTS, "#FFFF00", 4, dash="4px,2px"))
fig.add_trace(line_trace(TEAL_DASH, "#40E0D0", 3, dash="10px,5px"))
fig.add_trace(line_trace(GREEN_STEPS, "#00F000", 2, dash="4px,3px"))
fig.add_trace(line_trace(SMA_ORANGE, "#F0A020", 3.5))
fig.add_trace(line_trace(EMA_BLUE, "#0A28C8", 2.5))
fig.add_trace(line_trace(EMA_RED, "#C82020", 2.5))

# bars
bar_index = list(range(len(BAR_OPEN)))
fig.add_trace(go.Candlestick(
    x=bar_index, open=BAR_OPEN, high=BAR_HIGH, low=BAR_LOW, close=BAR_CLOSE,
    whiskerwidth=0, hoverinfo="skip", showlegend=False,
    increasing=dict(line=dict(color="#00F800", width=1), fillcolor="rgba(0,0,0,0)"),
    decreasing=dict(line=dict(color="#D80010", width=1), fillcolor="#D80010"),
))
fig.add_trace(go.Candlestick(
    x=DOJI_BARS, open=DOJI_CLOSE, high=DOJI_HIGH, low=DOJI_LOW, close=DOJI_CLOSE,
    whiskerwidth=0, hoverinfo="skip", showlegend=False,
    increasing=dict(line=dict(color="#FFFF40", width=1)),
    decreasing=dict(line=dict(color="#FFFF40", width=1)),
))

# heiken ashi midline, split by bar colour
up_y, down_y = [], []
for o, c in zip(BAR_OPEN, BAR_CLOSE):
    if o is None:
        up_y.append(None)
        down_y.append(None)
        continue
    mid = (o + c) / 2
    up_y.append(mid if c >= o else None)
    down_y.append(mid if c < o else None)
fig.add_trace(go.Scatter(x=bar_index, y=up_y, mode="lines", hoverinfo="skip", showlegend=False,
                         line=dict(color="#00FF00", width=2)))
fig.add_trace(go.Scatter(x=bar_index, y=down_y, mode="lines", hoverinfo="skip", showlegend=False,
                         line=dict(color="#3A1A8C", width=2)))
fig.add_trace(line_trace(PINK_DOTS, "#F4C8DC", 4, dash="4px,2px"))

# order lines
fig.add_trace(line_trace([(134, ORDER_LIMIT), (188, ORDER_LIMIT)], "#00F0F0", 2))
fig.add_trace(line_trace([(134, ORDER_ENTRY), (191.2, ORDER_ENTRY)], "#E8D8A8", 2))
fig.add_trace(line_trace([(134, ORDER_STOP), (188, ORDER_STOP)], "#F0E8D0", 2))

# traders dynamic index
fig.add_trace(line_trace(TDI_UPPER, "#84509A", 2, yaxis="y2"))
fig.add_trace(line_trace(TDI_LOWER, "#84509A", 2, yaxis="y2"))
fig.add_trace(line_trace(TDI_MID_BLUE, "#55A0E0", 3, dash="8px,3px", yaxis="y2"))
fig.add_trace(line_trace(TDI_MID_ORANGE, "#FFA020", 3, dash="8px,3px", yaxis="y2"))
fig.add_trace(line_trace(TDI_SIGNAL, "#F0E020", 2, dash="6px,3px", yaxis="y2"))
fig.add_trace(line_trace(TDI_RED, "#D82010", 2.5, yaxis="y2"))
fig.add_trace(line_trace(TDI_LIME, "#18F018", 2, yaxis="y2"))

# stochastics: rising dark, falling red, flat yellow
fig.add_trace(line_trace([(x, STOCH_UPPER) for x in XRANGE], "#C08000", 2, yaxis="y3"))
fig.add_trace(line_trace([(x, STOCH_LOWER) for x in XRANGE], "#6030A0", 2.5, yaxis="y3"))
by_color = {"#2F5558": [], "#E00808": [], "#FFFF40": []}
for (x0, y0), (x1, y1) in zip(STOCH, STOCH[1:]):
    key = "#2F5558" if y1 > y0 else "#E00808" if y1 < y0 else "#FFFF40"
    by_color[key] += [(x0, y0), (x1, y1), (None, None)]
for color, pts in by_color.items():
    fig.add_trace(line_trace(pts, color, 3 if color != "#FFFF40" else 2.5, yaxis="y3"))

tick_font = dict(family=FONT, size=13, color=INK, weight=700)
axis_common = dict(showgrid=False, zeroline=False, showline=False, ticks="outside", ticklen=5, tickwidth=1,
                   tickcolor="#000000", tickfont=tick_font, fixedrange=True)
fig.update_layout(
    width=WIDTH, height=HEIGHT, autosize=False,
    margin=dict(l=0, r=0, t=0, b=0, autoexpand=False),
    paper_bgcolor=BG, plot_bgcolor=BG,
    showlegend=False,
    boxmode="overlay", boxgap=0, boxgroupgap=0,
    xaxis=dict(axis_common, domain=[px(LEFT), px(RIGHT)], range=XRANGE, anchor="y3",
               tickvals=TIME_TICKS, ticktext=TIME_LABELS, rangeslider=dict(visible=False)),
    yaxis=dict(axis_common, domain=[py(SPLIT1), py(TOP)], range=Y1RANGE, side="right", anchor="x",
               tickvals=list(range(1129, 1148)), tickformat=".2f"),
    yaxis2=dict(axis_common, domain=[py(SPLIT2), py(SPLIT1)], range=Y2RANGE, side="right", anchor="x",
                tickvals=[30, 50, 70]),
    yaxis3=dict(axis_common, domain=[py(BOTTOM), py(SPLIT2)], range=Y3RANGE, side="left", anchor="x",
                tickvals=[0, 50, 100]),
)

# frame
add_rule(fig, 0, TOP, WIDTH, TOP)
add_rule(fig, 0, SPLIT1, WIDTH, SPLIT1)
add_rule(fig, 0, SPLIT2, WIDTH, SPLIT2)
add_rule(fig, LEFT, BOTTOM, RIGHT, BOTTOM)
add_rule(fig, LEFT, TOP, LEFT, BOTTOM)
add_rule(fig, RIGHT, TOP, RIGHT, BOTTOM)
add_rule(fig, 0.5, TOP, 0.5, HEIGHT - 0.5)
add_rule(fig, WIDTH - 1, TOP, WIDTH - 1, HEIGHT - 0.5)
add_rule(fig, 0, HEIGHT - 0.5, WIDTH, HEIGHT - 0.5)

# texts
add_label(fig, 635, 13, "ES 09-11 (400 Tick)\u00a0\u00a08/22/2011", size=16, color="#E4EEE4", bold=False, anchor="center")
add_label(fig, 56, 40,
          "CalculateDevelopingValueArea(ES\u00a0\u00a009-11\u00a0\u00a0(400\u00a0\u00a0Tick),8,30,VWTPO,6.75,False),\u00a0\u00a0"
          "SMA(ES\u00a0\u00a009-11\u00a0\u00a0(400\u00a0\u00a0Tick),116),\u00a0\u00a0EMA(ES\u00a0\u00a009-11\u00a0\u00a0(400\u00a0\u00a0Tick),34),\u00a0\u00a0"
          "EMA(ES\u00a0\u00a009-11\u00a0\u00a0(400\u00a0\u00a0Tick),68),\u00a0\u00a0anaHeikenAshi(I", size=12.7)
add_label(fig, 57, 596, "anaTradersDynamicIndex(ES 09-11 (400 Tick),34,2,13,7,1.62)", size=13)
add_label(fig, 57, 779, "Stochastics_Color(ES 09-11 (400 Tick),3,5,1)", size=12.75)
add_label(fig, 56, 908, "\u00a9 2011 NinjaTrader, LLC", size=10.8, bold=False)
add_label(fig, 1039, 546, "Ticks remaining\u00a0=\u00a0168", size=13.2)

# ticks remaining bar
fig.add_shape(type="rect", xref="paper", yref="paper", x0=px(1096), x1=px(1158), y0=py(563), y1=py(553),
              fillcolor="#1A4A9A", line=dict(width=0), layer="above")
fig.add_shape(type="rect", xref="paper", yref="paper", x0=px(1008), x1=px(1158), y0=py(563), y1=py(553),
              line=dict(color="#7FA07F", width=1), layer="above")
for x_div in (1046, 1083, 1121):
    add_rule(fig, x_div, 553, x_div, 563, "#7FA07F")

# price flags
for text, value, fill, color in PRICE_FLAGS:
    add_flag(fig, text, y_of_price(value), fill, color)
for text, value, fill, color, w in TDI_FLAGS:
    add_flag(fig, text, y_of_tdi(value), fill, color, w=w - 6)
add_path(fig, [(1210, 693), (1214, 689), (1218, 693), (1214, 697)], "#00F000", "#00F000")
fig.add_shape(type="rect", xref="paper", yref="paper", x0=px(1248), x1=px(1254), y0=py(700), y1=py(694),
              fillcolor="#00F000", line=dict(color="#000000", width=1), layer="above")
add_path(fig, [(1210, 325), (1214, 321), (1218, 325), (1214, 329)], "#0000F0", "#000000")

# stochastics flag on the left axis
y_last = y_of_stoch(STOCH_LAST) - 1
add_path(fig, [(52, y_last), (46, y_last - 8), (46, y_last + 8)], "#2F4F5F")
add_box(fig, 8, 46, y_last, 16, f"{STOCH_LAST:.2f}", "#2F4F5F", "#FFFFFF")

# order chips
y_lmt = y_of_price(ORDER_LIMIT)
y_stp = y_of_price(ORDER_STOP)
y_ent = y_of_price(ORDER_ENTRY)
add_path(fig, [(866, y_lmt), (860, y_lmt - 8), (860, y_lmt + 8)], "#00F000")
add_box(fig, 778, 799, y_lmt, 16, "1", "#00F000", "#101010")
add_box(fig, 799, 860, y_lmt, 16, "Sell LMT", "#00F000", "#101010", size=13)
add_path(fig, [(866, y_stp), (860, y_stp - 8), (860, y_stp + 8)], "#BFE0EE")
add_box(fig, 780, 801, y_stp, 16, "1", "#BFE0EE", "#101010")
add_box(fig, 801, 860, y_stp, 16, "Sell STP", "#BFE0EE", "#101010", size=13)
add_box(fig, 801, 846, y_ent, 16, "-1.00", "#000000", "#C01010", size=13, border="#000000")
add_box(fig, 846, 866, y_ent, 16, "1", "#00F000", "#101010")

# cancel boxes at the order lines
for y_box in (y_lmt, y_stp):
    fig.add_annotation(xref="paper", yref="paper", x=px(1199), y=py(y_box), text="\u2715", showarrow=False,
                       xanchor="center", yanchor="middle", width=15, height=15, borderpad=0, borderwidth=1,
                       bgcolor="#2E7D2E", bordercolor="#000000",
                       font=dict(family="DejaVu Sans", size=14, color="#D02808"))

fig.write_html("out.html", config={"displayModeBar": False}, post_script="document.body.style.margin='0';")
